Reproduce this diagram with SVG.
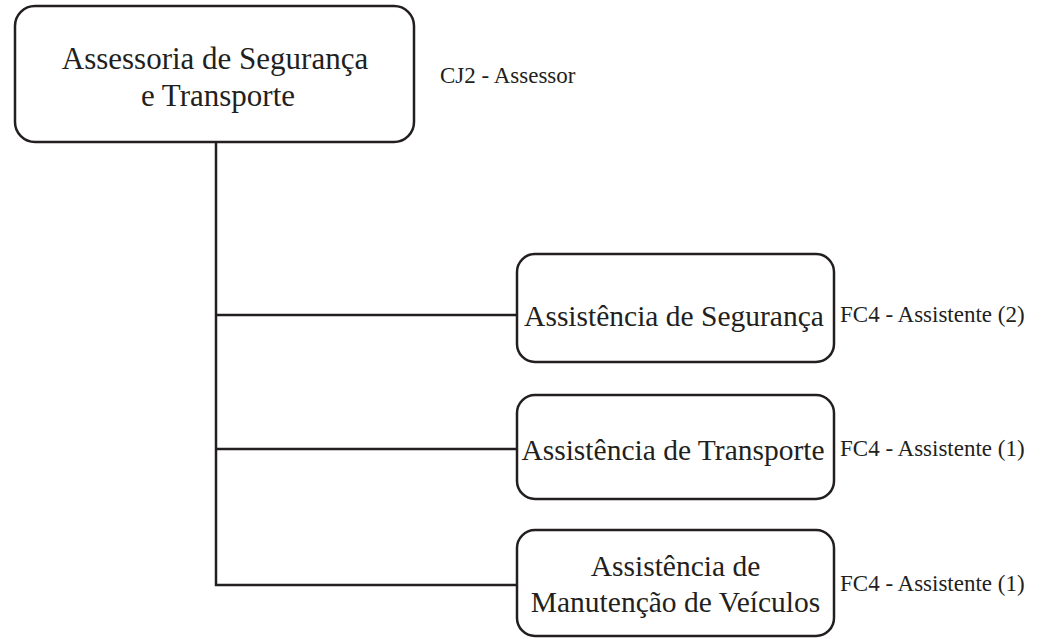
<svg xmlns="http://www.w3.org/2000/svg" width="1043" height="639" viewBox="0 0 1043 639">
<style>
.box{fill:#fff;stroke:#231f20;stroke-width:2.5}
.conn{fill:none;stroke:#231f20;stroke-width:2.5}
.t{font-family:"Liberation Serif",serif;font-size:29.5px;fill:#231f20;text-anchor:middle}
.big{font-size:31px}
.l{font-family:"Liberation Serif",serif;font-size:23px;fill:#231f20}
</style>
<rect width="1043" height="639" fill="#fff"/>
<g id="connectors">
<path class="conn" d="M216,142 V585 H517"/>
<path class="conn" d="M216,315 H517"/>
<path class="conn" d="M216,449 H517"/>
</g>
<g id="n0">
<rect class="box" x="15" y="6" width="399" height="136" rx="20"/>
<text class="t big" x="215" y="69">Assessoria de Segurança</text>
<text class="t big" x="218" y="106">e Transporte</text>
<text class="l" x="440" y="83">CJ2 - Assessor</text>
</g>
<g id="n1">
<rect class="box" x="517" y="254" width="317" height="108" rx="18"/>
<text class="t" x="674" y="326">Assistência de Segurança</text>
<text class="l" x="840" y="322">FC4 - Assistente (2)</text>
</g>
<g id="n2">
<rect class="box" x="517" y="395" width="317" height="104" rx="18"/>
<text class="t" x="673" y="460">Assistência de Transporte</text>
<text class="l" x="840" y="456">FC4 - Assistente (1)</text>
</g>
<g id="n3">
<rect class="box" x="517" y="530" width="317" height="106" rx="18"/>
<text class="t" x="675.5" y="576">Assistência de</text>
<text class="t" x="675.5" y="612">Manutenção de Veículos</text>
<text class="l" x="840" y="591">FC4 - Assistente (1)</text>
</g>
</svg>
